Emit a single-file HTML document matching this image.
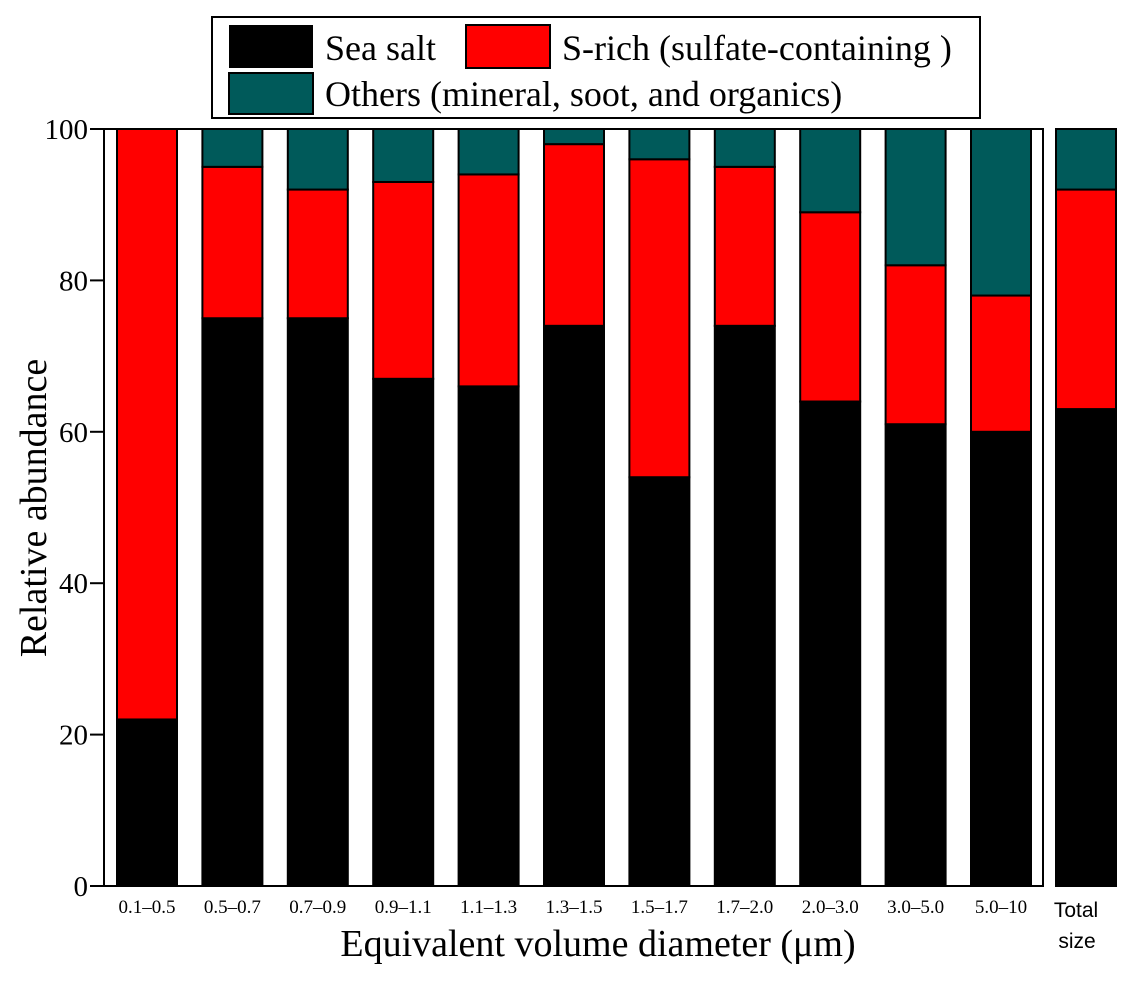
<!DOCTYPE html>
<html><head><meta charset="utf-8"><style>
body{margin:0;background:#fff}
svg text{font-family:"Liberation Serif",serif;fill:#000}
</style></head><body>
<svg id="chart" width="1136" height="983">
<g>
<rect x="212" y="17" width="768" height="101" fill="#fff" stroke="#000" stroke-width="2"/>
<rect x="229" y="25" width="84" height="43" fill="#000"/>
<text x="325" y="60" font-size="36">Sea salt</text>
<rect x="466" y="25" width="84" height="43" fill="#f00" stroke="#000" stroke-width="2"/>
<text x="562" y="60" font-size="36">S-rich (sulfate-containing )</text>
<rect x="229" y="73" width="84" height="41" fill="#005a5a" stroke="#000" stroke-width="2"/>
<text x="325" y="106" font-size="36">Others (mineral, soot, and organics)</text>
</g>
<g id="bars"></g>
<g id="axes"></g>
<text transform="translate(46,508) rotate(-90)" text-anchor="middle" font-size="38">Relative abundance</text>
<text x="598" y="956" text-anchor="middle" font-size="38">Equivalent volume diameter (μm)</text>
<text x="1076" y="917" text-anchor="middle" font-size="21" style="font-family:'Liberation Sans',sans-serif">Total</text>
<text x="1077" y="948" text-anchor="middle" font-size="21" style="font-family:'Liberation Sans',sans-serif">size</text>
</svg>
<script>
const categories=["0.1–0.5","0.5–0.7","0.7–0.9","0.9–1.1","1.1–1.3","1.3–1.5","1.5–1.7","1.7–2.0","2.0–3.0","3.0–5.0","5.0–10"];
const seaSalt=[22,75,75,67,66,74,54,74,64,61,60];
const sRich=[78,20,17,26,28,24,42,21,25,21,18];
const others=[0,5,8,7,6,2,4,5,11,18,22];
const totalValues=[63,29,8];
const yTicks=[0,20,40,60,80,100];
const NS="http://www.w3.org/2000/svg";
const y0=886,y1=129;
function y(v){return y0-(v/100)*(y0-y1);}
function xc(i){return 147+i*85.4;}
const bars=document.getElementById('bars'),axes=document.getElementById('axes');
function mk(tag,attrs,parent){const e=document.createElementNS(NS,tag);for(const k in attrs)e.setAttribute(k,attrs[k]);parent.appendChild(e);return e;}
const colors=["#000","#f00","#005a5a"];
function stack(cx,vals,name){let base=0;vals.forEach((v,j)=>{if(v<=0)return;const r=mk('rect',{x:cx-30,y:y(base+v),width:60,height:y(base)-y(base+v),fill:colors[j],stroke:'#000','stroke-width':2},bars);


base+=v;});}
categories.forEach((c,i)=>{stack(xc(i),[seaSalt[i],sRich[i],others[i]],'bar-'+i);
const t=mk('text',{x:xc(i),y:913,'text-anchor':'middle','font-size':19},axes);t.textContent=c;

});
stack(1086,totalValues,'bar-total');
const f=mk('rect',{x:104,y:y1,width:939,height:y0-y1,fill:'none',stroke:'#000','stroke-width':2},axes);


yTicks.forEach(v=>{mk('line',{x1:90,x2:104,y1:y(v),y2:y(v),stroke:'#000','stroke-width':2},axes);
const t=mk('text',{x:88,y:y(v)+10,'text-anchor':'end','font-size':29},axes);t.textContent=v;

});
</script>
</body></html>
